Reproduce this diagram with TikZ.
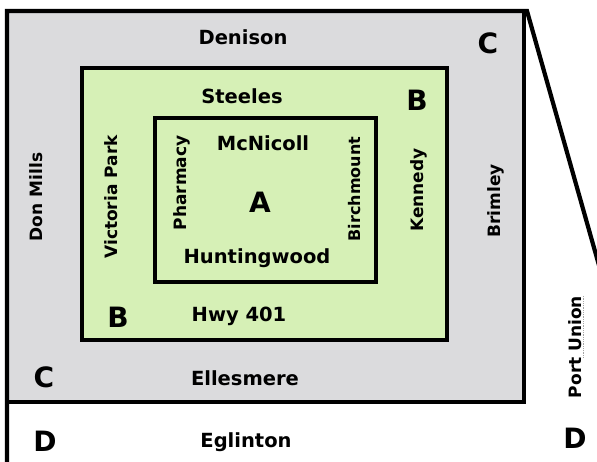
\documentclass[tikz,border=0pt]{standalone}
\usepackage{fontspec}
\setmainfont{DejaVu Sans}
\definecolor{cgray}{RGB}{219,219,221}
\definecolor{bgreen}{RGB}{214,240,182}
\begin{document}
\begin{tikzpicture}[x=1pt,y=-1pt,
  lbl/.style={font=\fontsize{19.5}{19.5}\selectfont\bfseries, inner sep=0pt},
  vlbl/.style={font=\fontsize{17}{17}\selectfont\bfseries, inner sep=0pt, rotate=90},
  big/.style={font=\fontsize{28}{28}\selectfont\bfseries, inner sep=0pt},
  frame/.style={line width=4.2pt, line join=miter}]
\useasboundingbox (0,0) rectangle (597,462);
% C zone
\fill[cgray] (7,11) rectangle (524,402);
% B zone
\filldraw[fill=bgreen, frame] (82,68) rectangle (447,340);
% A zone
\filldraw[fill=bgreen, frame] (155,118) rectangle (376,282);
% outer frames
\draw[frame] (7,470) -- (7,11) -- (527,11) -- (604,283);
\draw[frame] (7,402) -- (524,402) -- (524,11);
% labels
\node[lbl] (denison) at (243,37) {Denison};
\node[big] (ctr) at (488,43) {C};
\node[lbl] (steeles) at (242,96) {Steeles};
\node[big] (btr) at (417,100) {B};
\node[lbl] (mcnicoll) at (263,143) {McNicoll};
\node[vlbl] (pharmacy) at (182,183) {Pharmacy};
\node[big] (a) at (260,202) {A};
\node[vlbl, font=\fontsize{16}{16}\selectfont\bfseries] (birchmount) at (355,189) {Birchmount};
\node[vlbl] (kennedy) at (419,190) {Kennedy};
\node[vlbl] (brimley) at (496,201) {Brimley};
\node[vlbl] (donmills) at (36,197) {Don Mills};
\node[vlbl] (victoria) at (111,197) {Victoria Park};
\node[lbl] (huntingwood) at (257,258) {Huntingwood};
\node[big] (bbl) at (118,317) {B};
\node[lbl] (hwy) at (239,316) {Hwy 401};
\node[big] (cbl) at (44,377) {C};
\node[lbl] (ellesmere) at (245,378) {Ellesmere};
\node[big] (dbl) at (45,441) {D};
\node[lbl] (eglinton) at (246,442) {Eglinton};
\node[vlbl] (portunion) at (575,347) {Port Union};
\node[big] (dbr) at (575,438) {D};
\draw[gray!70, line width=0.8pt, densely dotted] ([xshift=2pt]portunion.south east) -- ([xshift=2pt,yshift=-62pt]portunion.south east);
\end{tikzpicture}
\end{document}
